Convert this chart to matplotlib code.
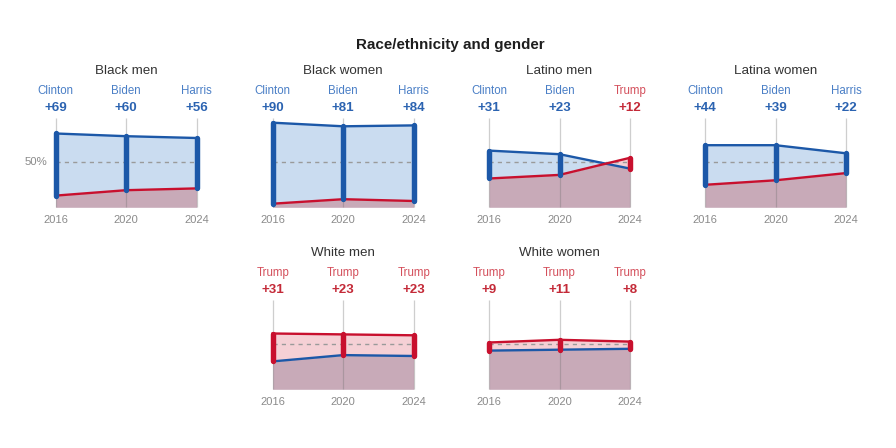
import matplotlib
matplotlib.use("Agg")
import matplotlib.pyplot as plt
import numpy as np

plt.rcParams['font.family'] = ['Liberation Sans', 'DejaVu Sans']

title = "Race/ethnicity and gender"
groups = ["Black men", "Black women", "Latino men", "Latina women", "White men", "White women"]
years = [2016, 2020, 2024]
dem_candidates = ["Clinton", "Biden", "Harris"]
rep_candidate = "Trump"

dem_black_men = [82, 79, 77]
rep_black_men = [13, 19, 21]
dem_black_women = [94, 90, 91]
rep_black_women = [4, 9, 7]
dem_latino_men = [63, 59, 43]
rep_latino_men = [32, 36, 55]
dem_latina_women = [69, 69, 60]
rep_latina_women = [25, 30, 38]
dem_white_men = [31, 38, 37]
rep_white_men = [62, 61, 60]
dem_white_women = [43, 44, 45]
rep_white_women = [52, 55, 53]

dem_shares = [dem_black_men, dem_black_women, dem_latino_men, dem_latina_women, dem_white_men, dem_white_women]
rep_shares = [rep_black_men, rep_black_women, rep_latino_men, rep_latina_women, rep_white_men, rep_white_women]

W, H = 896, 448
fig = plt.figure(figsize=(W / 100, H / 100), dpi=100)

BLUE = "#1c58a8"
BLUE_TXT = "#4a7fc6"
BLUE_NUM = "#2b63b1"
RED = "#c8102e"
RED_TXT = "#d4505c"
RED_NUM = "#c42a38"
LBLUE = "#cadcf0"
LPINK = "#f5d0d5"
MAUVE = "#c8aab8"

# panel positions in pixels: (left of 2016, baseline y)
lefts = [55.7, 272.7, 489, 705, 272.7, 489]
bases = [207.3] * 4 + [389.3] * 2
pw, ph = 141, 90

fig.text(450 / W, 1 - 45 / H, title, ha='center', va='center', fontsize=10.9,
         fontweight='bold', color='#1e1e1e')

for i, g in enumerate(groups):
    ax = fig.add_axes([lefts[i] / W, (H - bases[i]) / H, pw / W, ph / H])
    ax.set_xlim(years[0], years[-1])
    ax.set_ylim(0, 100)
    ax.axis('off')
    d = np.array(dem_shares[i], float)
    r = np.array(rep_shares[i], float)
    xf = np.linspace(years[0], years[-1], 400)
    df = np.interp(xf, years, d)
    rf = np.interp(xf, years, r)
    lo = np.minimum(df, rf)
    ax.fill_between(xf, 0, lo, color=MAUVE, lw=0, zorder=1)
    ax.fill_between(xf, rf, df, where=df >= rf, interpolate=True, color=LBLUE, lw=0, zorder=1)
    ax.fill_between(xf, df, rf, where=rf >= df, interpolate=True, color=LPINK, lw=0, zorder=1)
    for y in years:
        ax.plot([y, y], [0, 99], color=(0.45, 0.45, 0.45, 0.35), lw=0.9, zorder=2, clip_on=False,
                solid_capstyle='butt')
    ax.plot([years[0], years[-1]], [50, 50], color='#9a9a9a', lw=1.0, ls=(0, (3, 3)), zorder=3)
    ax.plot(years, d, color=BLUE, lw=1.7, zorder=4, clip_on=False, solid_joinstyle='round')
    ax.plot(years, r, color=RED, lw=1.7, zorder=4, clip_on=False, solid_joinstyle='round')
    tr = ax.get_xaxis_transform()
    for j, y in enumerate(years):
        dem_wins = d[j] >= r[j]
        col = BLUE if dem_wins else RED
        ax.plot([y, y], [min(d[j], r[j]), max(d[j], r[j])], color=col, lw=3.9, zorder=5,
                clip_on=False, solid_capstyle='round')
        name = dem_candidates[j] if dem_wins else rep_candidate
        ax.text(y, 1.287, name, transform=tr, ha='center', va='center', fontsize=8.3,
                color=BLUE_TXT if dem_wins else RED_TXT)
        ax.text(y, 1.107, "+%d" % round(abs(d[j] - r[j])), transform=tr, ha='center', va='center',
                fontsize=9.6, fontweight='bold', color=BLUE_NUM if dem_wins else RED_NUM)
        ax.text(y, -0.142, str(y), transform=tr, ha='center', va='center', fontsize=8,
                color='#8a8a8a')
    ax.text(0.5, 1.518, g, transform=ax.transAxes, ha='center', va='center', fontsize=9.6,
            color='#333333')
    if i == 0:
        ax.text(years[0] - 0.45, 50, "50%", ha='right', va='center', fontsize=8.2, color='#8a8a8a')

fig.savefig("out.png", dpi=100)
